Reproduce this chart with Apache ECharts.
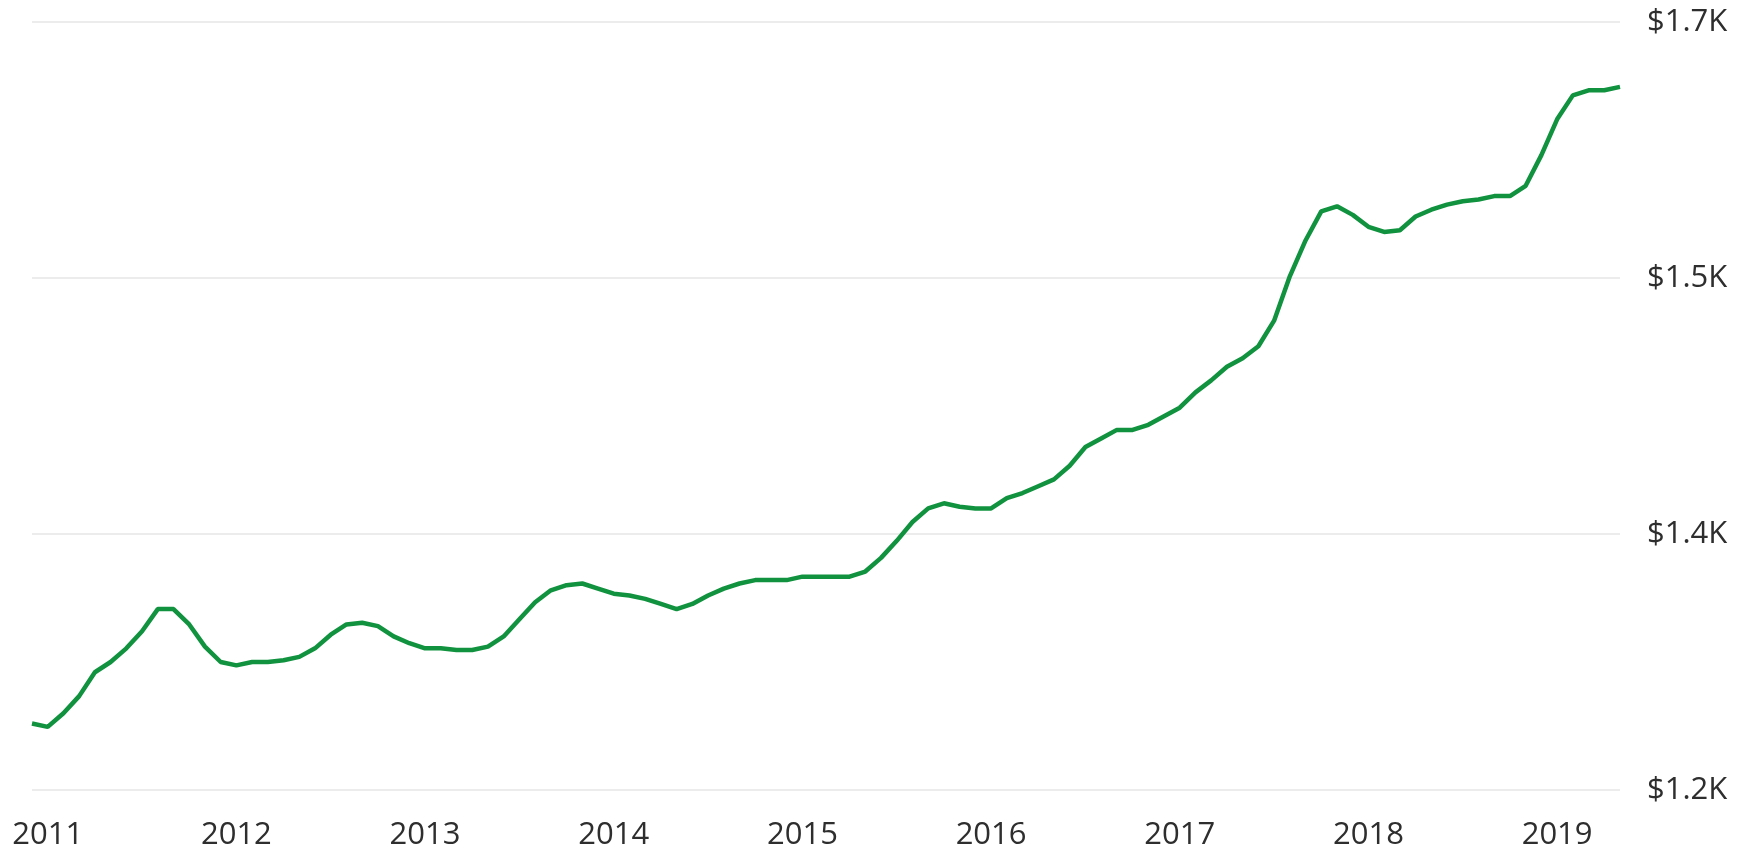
<!DOCTYPE html>
<html>
<head>
<meta charset="utf-8">
<title>Rent</title>
<script src="https://cdn.jsdelivr.net/npm/echarts@6/dist/echarts.min.js"></script>
<style>
	html,body{margin:0;padding:0;background:#fff;}
	#chart{width:1754px;height:854px;}
</style>
</head>
<body>
<div id="chart"></div>
<script>
// monthly values, Dec 2010 .. May 2019
var startYear = 2010, startMonth = 12;
var values = [
	1239, 1237, 1245, 1255, 1269, 1275, 1283, 1293, 1306, 1306,
	1297, 1284, 1275, 1273, 1275, 1275, 1276, 1278, 1283, 1291,
	1297, 1298, 1296, 1290, 1286, 1283, 1283, 1282, 1282, 1284,
	1290, 1300, 1310, 1317, 1320, 1321, 1318, 1315, 1314, 1312,
	1309, 1306, 1309, 1314, 1318, 1321, 1323, 1323, 1323, 1325,
	1325, 1325, 1325, 1328, 1336, 1346, 1357, 1365, 1368, 1366,
	1365, 1365, 1371, 1374, 1378, 1382, 1390, 1401, 1406, 1411,
	1411, 1414, 1419, 1424, 1433, 1440, 1448, 1453, 1460, 1475,
	1501, 1522, 1539, 1542, 1537, 1530, 1527, 1528, 1536, 1540,
	1543, 1545, 1546, 1548, 1548, 1554, 1572, 1593, 1607, 1610,
	1610, 1612
];
var yMin = 1200, yMax = 1650, yStep = 150;

var months = [];
(function(){
	var y = startYear, m = startMonth;
	for(var i=0;i<values.length;i++){
		months.push(y+'-'+(m<10?'0'+m:m));
		m++;
		if(m>12){m=1;y++;}
	}
})();

var chart = echarts.init(document.getElementById('chart'));
var font = '"Open Sans", "Noto Sans", sans-serif';
var option = {
	animation:false,
	grid:{left:32,right:134,top:22,bottom:64},
	xAxis:{
		type:'category',
		data:months,
		boundaryGap:false,
		axisLine:{show:false},
		axisTick:{show:false},
		splitLine:{show:false},
		axisLabel:{
			interval:function(idx,val){return val.slice(5)==='01';},
			formatter:function(val){return val.slice(0,4);},
			margin:30,
			fontSize:31,
			fontFamily:font,
			color:'#2e2e2e'
		}
	},
	yAxis:{
		type:'value',
		position:'right',
		min:yMin,
		max:yMax,
		interval:yStep,
		axisLine:{show:false},
		axisTick:{show:false},
		splitLine:{lineStyle:{color:'#ececec',width:2}},
		axisLabel:{
			margin:27,
			fontSize:31,
			fontFamily:font,
			color:'#2e2e2e',
			formatter:function(v){return '$'+(Math.round(v/100)/10).toFixed(1)+'K';}
		}
	},
	series:[{
		type:'line',
		data:values,
		showSymbol:false,
		symbol:'none',
		lineStyle:{color:'#10923f',width:4.5},
		itemStyle:{color:'#10923f'}
	}]
};
chart.setOption(option);
</script>
</body>
</html>
